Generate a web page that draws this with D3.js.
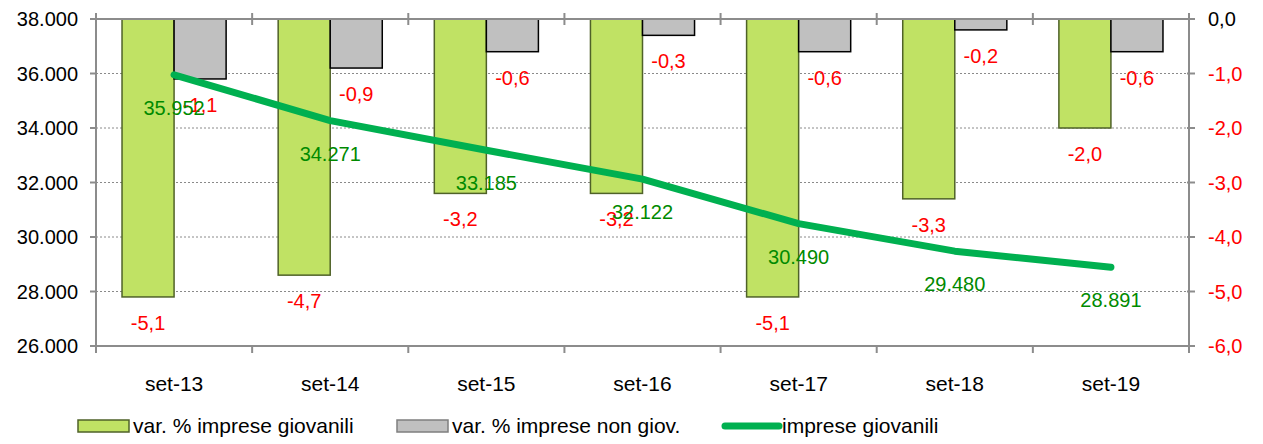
<!DOCTYPE html>
<html>
<head>
<meta charset="utf-8">
<title>imprese giovanili</title>
<style>
  body { margin: 0; background: #fff; }
  text { font-family: Arial, "Liberation Sans", sans-serif; }
</style>
</head>
<body>
<div id="chart"></div>
<script src="https://cdn.jsdelivr.net/npm/d3@7"></script>
<script>
var categories = ['set-13', 'set-14', 'set-15', 'set-16', 'set-17', 'set-18', 'set-19'];
var varGiovanili = [-5.1, -4.7, -3.2, -3.2, -5.1, -3.3, -2.0];
var varNonGiov = [-1.1, -0.9, -0.6, -0.3, -0.6, -0.2, -0.6];
var impreseGiovanili = [35952, 34271, 33185, 32122, 30490, 29480, 28891];
var leftTicks = [26000, 28000, 30000, 32000, 34000, 36000, 38000];
var rightTicks = [-6, -5, -4, -3, -2, -1, 0];

var W = 1263, H = 444;
var pL = 96, pR = 1189, pT = 19, pB = 346;

var svg = d3.select('#chart').append('svg')
  .attr('width', W).attr('height', H);

var x = d3.scaleBand().domain(categories).range([pL, pR]);
var xSub = d3.scaleBand().domain(['g', 'n']).range([0, x.bandwidth()]).paddingOuter(0.5);
var yL = d3.scaleLinear().domain([26000, 38000]).range([pB, pT]);
var yR = d3.scaleLinear().domain([-6, 0]).range([pB, pT]);

var itNum = d3.formatLocale({decimal: ',', thousands: '.', grouping: [3], currency: ['', '€'], minus: '-'});
var fmtL = itNum.format(',.0f');
var fmtR = itNum.format('.1f');

// grid
svg.append('g').selectAll('line')
  .data(leftTicks.slice(1, -1))
  .join('line')
  .attr('x1', pL).attr('x2', pR)
  .attr('y1', d => yL(d)).attr('y2', d => yL(d))
  .attr('stroke', '#8a8a8a').attr('stroke-width', 1)
  .attr('stroke-dasharray', '2,2');

// bars
var fmtBar = {g: {fill: '#c0e264', stroke: '#4f6228', data: varGiovanili},
              n: {fill: '#c0c0c0', stroke: '#000', data: varNonGiov}};
['g', 'n'].forEach(function(k) {
  svg.append('g').selectAll('rect')
    .data(fmtBar[k].data)
    .join('rect')
    .attr('x', (d, i) => x(categories[i]) + xSub(k))
    .attr('width', xSub.bandwidth())
    .attr('y', yR(0))
    .attr('height', d => yR(d) - yR(0))
    .attr('fill', fmtBar[k].fill)
    .attr('stroke', fmtBar[k].stroke)
    .attr('stroke-width', 1.5);
});

// axes lines
var axisCol = '#8c8c8c';
var ax = svg.append('g').attr('stroke', axisCol).attr('stroke-width', 2);
ax.append('line').attr('x1', pL).attr('x2', pR).attr('y1', pT).attr('y2', pT);
ax.append('line').attr('x1', pL).attr('x2', pR).attr('y1', pB).attr('y2', pB);
ax.append('line').attr('x1', pL).attr('x2', pL).attr('y1', pT).attr('y2', pB);
ax.append('line').attr('x1', pR).attr('x2', pR).attr('y1', pT).attr('y2', pB);

var catEdges = categories.map(c => x(c)).concat([pR]);
ax.selectAll('.tt').data(catEdges).join('line')
  .attr('x1', d => d).attr('x2', d => d).attr('y1', pT - 6).attr('y2', pT + 6);
ax.selectAll('.bt').data(catEdges).join('line')
  .attr('x1', d => d).attr('x2', d => d).attr('y1', pB).attr('y2', pB + 7);
ax.selectAll('.lt').data(leftTicks).join('line')
  .attr('x1', pL - 6).attr('x2', pL).attr('y1', d => yL(d)).attr('y2', d => yL(d));
ax.selectAll('.rt').data(rightTicks).join('line')
  .attr('x1', pR - 2).attr('x2', pR + 6).attr('y1', d => yR(d)).attr('y2', d => yR(d));

// tick labels
svg.append('g').selectAll('text').data(leftTicks).join('text')
  .attr('x', pL - 18).attr('y', d => yL(d) + 7)
  .attr('text-anchor', 'end').attr('font-size', 20).attr('fill', '#000')
  .text(d => fmtL(d));
svg.append('g').selectAll('text').data(rightTicks).join('text')
  .attr('x', pR + 19).attr('y', d => yR(d) + 7)
  .attr('font-size', 20).attr('fill', d => d === 0 ? '#000' : '#ff0000')
  .text(d => fmtR(d));
svg.append('g').selectAll('text').data(categories).join('text')
  .attr('x', d => x(d) + x.bandwidth() / 2).attr('y', 391)
  .attr('text-anchor', 'middle').attr('font-size', 21).attr('fill', '#000')
  .text(d => d);

// line
var line = d3.line()
  .x((d, i) => x(categories[i]) + x.bandwidth() / 2)
  .y(d => yL(d));
svg.append('path')
  .attr('d', line(impreseGiovanili))
  .attr('fill', 'none').attr('stroke', '#00b050')
  .attr('stroke-width', 7).attr('stroke-linecap', 'round').attr('stroke-linejoin', 'round');

// bar labels
['g', 'n'].forEach(function(k) {
  svg.append('g').selectAll('text')
    .data(fmtBar[k].data).join('text')
    .attr('x', (d, i) => x(categories[i]) + xSub(k) + xSub.bandwidth() / 2)
    .attr('y', d => yR(d) + 33)
    .attr('text-anchor', 'middle').attr('font-size', 20).attr('fill', '#ff0000')
    .text(d => fmtR(d));
});

// line labels
svg.append('g').selectAll('text')
  .data(impreseGiovanili).join('text')
  .attr('x', (d, i) => x(categories[i]) + x.bandwidth() / 2)
  .attr('y', d => yL(d) + 40)
  .attr('text-anchor', 'middle').attr('font-size', 20).attr('fill', '#008a00')
  .text(d => fmtL(d));

// legend
var legend = svg.append('g').attr('transform', 'translate(0,426)');
var lg1 = legend.append('g').attr('transform', 'translate(78,0)');
lg1.append('rect').attr('x', 0).attr('y', -6).attr('width', 51).attr('height', 12)
  .attr('fill', '#c0e264').attr('stroke', '#4f6228').attr('stroke-width', 1.5);
lg1.append('text').attr('x', 55).attr('y', 7).attr('font-size', 21).text('var. % imprese giovanili');
var lg2 = legend.append('g').attr('transform', 'translate(397,0)');
lg2.append('rect').attr('x', 0).attr('y', -6).attr('width', 51).attr('height', 12)
  .attr('fill', '#c0c0c0').attr('stroke', '#7f7f7f').attr('stroke-width', 1.5);
lg2.append('text').attr('x', 55).attr('y', 7).attr('font-size', 21).text('var. % imprese non giov.');
var lg3 = legend.append('g').attr('transform', 'translate(722,0)');
lg3.append('line').attr('x1', 3).attr('x2', 57).attr('y1', 0).attr('y2', 0)
  .attr('stroke', '#00b050').attr('stroke-width', 7).attr('stroke-linecap', 'round');
lg3.append('text').attr('x', 60).attr('y', 7).attr('font-size', 21).text('imprese giovanili');
</script>
</body>
</html>
